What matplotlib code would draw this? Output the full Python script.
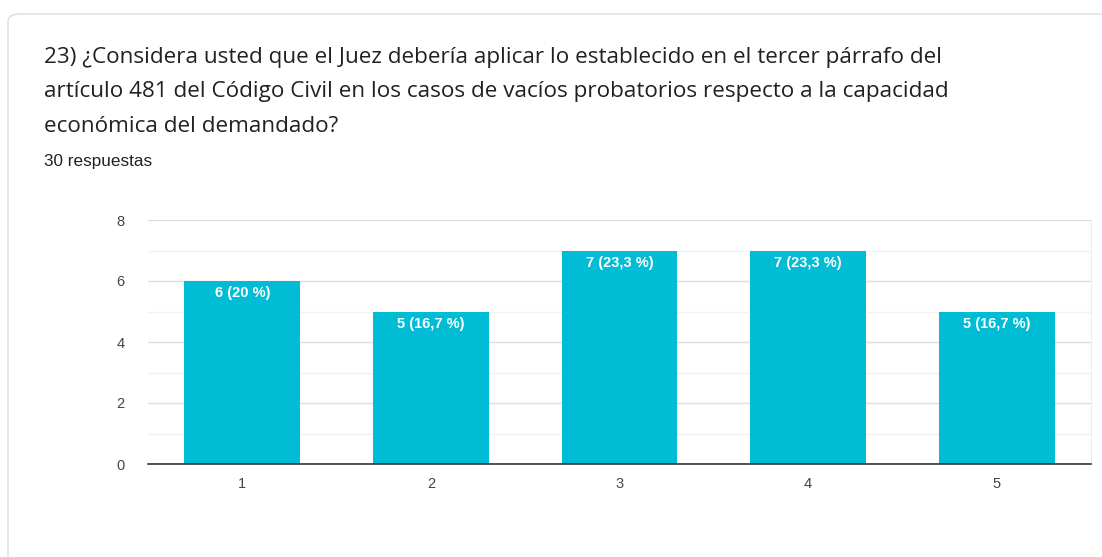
import matplotlib
matplotlib.use("Agg")
import matplotlib.pyplot as plt
from matplotlib.patches import FancyBboxPatch

plt.rcParams['font.family'] = ['Liberation Sans', 'DejaVu Sans']

categories = ['1', '2', '3', '4', '5']
counts = [6, 5, 7, 7, 5]
labels = ['6 (20 %)', '5 (16,7 %)', '7 (23,3 %)', '7 (23,3 %)', '5 (16,7 %)']

title_lines = [
    "23) ¿Considera usted que el Juez debería aplicar lo establecido en el tercer párrafo del",
    "artículo 481 del Código Civil en los casos de vacíos probatorios respecto a la capacidad",
    "económica del demandado?",
]
subtitle = "30 respuestas"

W, H = 1102, 557
fig = plt.figure(figsize=(W / 100, H / 100), dpi=100)
fig.patch.set_facecolor('white')

# card border
card = FancyBboxPatch((8 / W, -0.05), 1.2, 1 - 14 / H + 0.05,
                      boxstyle="round,pad=0,rounding_size=0.012",
                      transform=fig.transFigure, facecolor='none',
                      edgecolor='#dadce0', linewidth=1.0, zorder=-1)
fig.patches.append(card)

for i, line in enumerate(title_lines):
    fig.text(44 / W, 1 - (58 + 34 * i) / H, line, fontsize=16.2,
             color='#202124', va='center', ha='left', family=['Open Sans'])
fig.text(44 / W, 1 - 162 / H, subtitle, fontsize=12.3, color='#202124',
         va='center', ha='left')

ax = fig.add_axes([148 / W, 1 - 464 / H, (1091 - 148) / W, (464 - 220) / H])
x = range(1, len(categories) + 1)
bars = ax.bar(x, counts, width=0.615, color='#00bcd4', zorder=3)

ax.set_xlim(0.5, 5.5)
ax.set_ylim(0, 8)
ax.set_yticks([0, 2, 4, 6, 8])
ax.set_yticks([1, 3, 5, 7], minor=True)
ax.set_xticks(list(x))
ax.set_xticklabels(categories)
ax.grid(axis='y', which='major', color='#e0e0e0', linewidth=1, zorder=0)
ax.grid(axis='y', which='minor', color='#f2f2f2', linewidth=1, zorder=0)
ax.tick_params(axis='both', which='both', length=0, labelsize=10.5, colors='#444444')
ax.tick_params(axis='y', pad=17)
ax.tick_params(axis='x', pad=9)
for s in ['top', 'left']:
    ax.spines[s].set_visible(False)
ax.spines['right'].set_color('#eeeeee')
ax.spines['bottom'].set_color('#333333')
ax.spines['bottom'].set_linewidth(1.2)
ax.spines['bottom'].set_zorder(4)

for b, lab in zip(bars, labels):
    ax.annotate(lab, (b.get_x() + b.get_width() / 2, b.get_height()),
                xytext=(0, -9), textcoords='offset points', ha='center',
                va='center', color='white', fontsize=10.5, fontweight='bold', zorder=5)

fig.savefig('out.png', dpi=100)
